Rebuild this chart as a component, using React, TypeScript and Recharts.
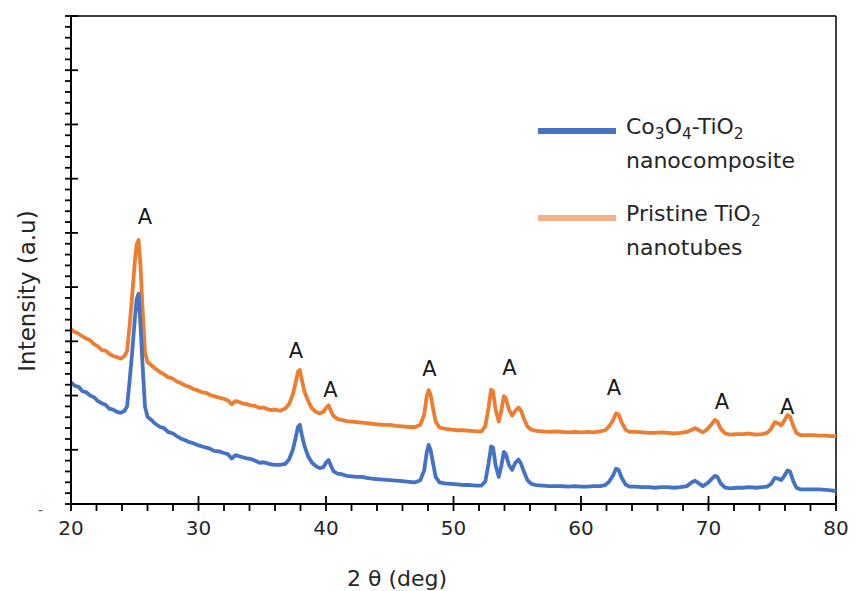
import React from 'react';
import { LineChart, Line, XAxis, YAxis, ReferenceLine, ReferenceDot, Legend } from 'recharts';

const FONT = '"DejaVu Sans", sans-serif';
const TEXT = '#262626';

// 2θ positions (deg)
const theta = [
  20.0, 20.3, 20.6, 20.9, 21.2, 21.5, 21.8, 22.1, 22.4, 22.7, 23.0, 23.3, 23.6, 23.9, 24.2, 24.4, 24.6, 24.8,
  25.0, 25.15, 25.3, 25.45, 25.6, 25.8, 26.0, 26.3, 26.6, 27.0, 27.3, 27.6, 28.0, 28.3, 28.6, 29.0, 29.3, 29.6,
  30.0, 30.3, 30.6, 30.9, 31.2, 31.6, 32.0, 32.3, 32.6, 32.9, 33.2, 33.5, 33.8, 34.1, 34.4, 34.8, 35.1, 35.4,
  35.7, 36.0, 36.4, 36.8, 37.1, 37.4, 37.6, 37.8, 37.95, 38.1, 38.3, 38.6, 38.9, 39.2, 39.5, 39.8, 40.0, 40.2,
  40.4, 40.6, 40.9, 41.2, 41.6, 42.0, 42.4, 42.8, 43.2, 43.6, 44.0, 44.5, 45.0, 45.5, 46.0, 46.5, 47.0, 47.4,
  47.7, 47.9, 48.05, 48.2, 48.4, 48.6, 48.9, 49.3, 49.8, 50.3, 50.8, 51.3, 51.8, 52.2, 52.5, 52.75, 52.95, 53.1,
  53.3, 53.55, 53.75, 53.95, 54.1, 54.35, 54.6, 54.85, 55.1, 55.3, 55.55, 55.8, 56.1, 56.5, 57.0, 57.5, 58.0, 58.5,
  59.0, 59.5, 60.0, 60.5, 61.0, 61.5, 61.9, 62.2, 62.5, 62.75, 62.95, 63.2, 63.5, 63.8, 64.3, 64.8, 65.3, 65.8,
  66.3, 66.8, 67.3, 67.8, 68.3, 68.7, 68.95, 69.25, 69.55, 69.9, 70.2, 70.5, 70.7, 70.95, 71.3, 71.7, 72.2, 72.7,
  73.2, 73.7, 74.2, 74.6, 74.9, 75.2, 75.45, 75.7, 75.95, 76.2, 76.4, 76.65, 76.9, 77.2, 77.7, 78.2, 78.7, 79.2,
  79.6, 80.0,
];

// Co3O4-TiO2 nanocomposite (a.u.)
const composite = [
  224, 218, 216, 208, 206, 200, 197, 190, 186, 183, 176, 174, 170, 168, 172, 180, 228, 280,
  340, 378, 388, 330, 262, 180, 161, 155, 148, 142, 140, 133, 130, 125, 121, 117, 114, 112,
  108, 106, 104, 102, 98, 97, 94, 92, 84, 90, 88, 86, 84, 83, 80, 76, 77, 75,
  73, 72, 72, 74, 82, 100, 120, 142, 146, 128, 108, 88, 76, 70, 66, 68, 76, 81,
  70, 60, 56, 55, 52, 51, 50, 50, 48, 47, 46, 45, 44, 43, 42, 41, 40, 44,
  62, 95, 109, 100, 75, 50, 40, 38, 37, 36, 35, 35, 34, 34, 42, 75, 106, 104,
  72, 50, 70, 96, 92, 72, 63, 76, 82, 74, 58, 44, 37, 35, 34, 33, 33, 33,
  32, 33, 32, 32, 33, 33, 35, 41, 52, 65, 63, 48, 36, 32, 32, 31, 31, 30,
  31, 31, 30, 31, 33, 40, 43, 38, 33, 38, 45, 52, 50, 38, 30, 29, 30, 30,
  31, 30, 31, 32, 37, 48, 47, 44, 52, 62, 60, 42, 30, 27, 27, 27, 27, 26,
  25, 24,
];

// Pristine TiO2 nanotubes (a.u.)
const pristine = [
  322, 317, 314, 309, 305, 302, 295, 291, 284, 283, 277, 273, 271, 268, 273, 282, 330, 385,
  445, 478, 487, 440, 365, 280, 262, 256, 250, 243, 239, 234, 231, 226, 223, 218, 216, 212,
  209, 206, 205, 201, 199, 196, 194, 191, 184, 190, 188, 185, 184, 182, 181, 177, 178, 175,
  173, 174, 172, 176, 184, 202, 222, 244, 247, 230, 208, 190, 176, 170, 167, 170, 177, 182,
  171, 162, 157, 155, 153, 152, 151, 150, 149, 148, 147, 146, 146, 144, 143, 142, 142, 146,
  165, 198, 210, 202, 176, 152, 141, 139, 137, 136, 136, 135, 134, 134, 144, 178, 211, 208,
  174, 152, 172, 199, 195, 174, 163, 172, 178, 172, 156, 143, 137, 135, 134, 133, 134, 133,
  132, 133, 132, 133, 132, 134, 136, 143, 154, 167, 165, 150, 137, 133, 133, 132, 131, 131,
  132, 131, 130, 131, 133, 137, 140, 136, 132, 138, 146, 155, 152, 139, 130, 128, 129, 129,
  130, 128, 129, 131, 138, 151, 149, 145, 154, 164, 161, 144, 131, 127, 127, 127, 126, 126,
  125, 125,
];

const xTicks = [20, 22, 24, 26, 28, 30, 32, 34, 36, 38, 40, 42, 44, 46, 48, 50, 52, 54, 56, 58, 60, 62, 64, 66, 68, 70, 72, 74, 76, 78, 80];
const yTicks = Array.from({ length: 46 }, (_, i) => i * 20);

// anatase peak markers
const peakLabels = [
  { x: 25.8, y: 530 },
  { x: 37.65, y: 283 },
  { x: 40.35, y: 212 },
  { x: 48.12, y: 250 },
  { x: 54.38, y: 252 },
  { x: 62.58, y: 215 },
  { x: 71.06, y: 189 },
  { x: 76.17, y: 179 },
];

const data = theta.map((t, i) => ({ theta: t, composite: composite[i], pristine: pristine[i] }));

const XTick = ({ x, y, payload }: any) => {
  const major = payload.value % 10 === 0;
  return (
    <g>
      <line x1={x} x2={x} y1={major ? y - 8 : y} y2={y + 7} stroke="#000" strokeWidth={1.8} />
      {major && (
        <text x={x} y={y + 31} textAnchor="middle" fontSize={20} fontFamily={FONT} fill={TEXT}>
          {payload.value}
        </text>
      )}
    </g>
  );
};

const YTick = ({ x, y, payload }: any) => {
  const major = payload.value % 100 === 0;
  return <line x1={x - 6} x2={major ? x + 7 : x} y1={y} y2={y} stroke="#000" strokeWidth={1.8} />;
};

const Sub = ({ children }: { children: React.ReactNode }) => (
  <span style={{ fontSize: '0.7em', position: 'relative', top: '0.3em' }}>{children}</span>
);

const legendItems = [
  { color: '#4472C4', lines: [<>Co<Sub>3</Sub>O<Sub>4</Sub>-TiO<Sub>2</Sub></>, 'nanocomposite'] },
  { color: '#F4B183', lines: [<>Pristine TiO<Sub>2</Sub></>, 'nanotubes'] },
];

const LegendBox = () => (
  <div style={{ fontFamily: FONT, fontSize: 22, lineHeight: '32px', color: TEXT }}>
    {legendItems.map((item, i) => (
      <div key={i} style={{ position: 'relative', height: 64, marginBottom: i === 0 ? 23 : 0 }}>
        <div style={{ position: 'absolute', left: 0, top: 17, width: 78, height: 6, background: item.color }} />
        <div style={{ position: 'absolute', left: 88, top: 0, whiteSpace: 'nowrap' }}>
          {item.lines.map((l, j) => (
            <div key={j}>{l}</div>
          ))}
        </div>
      </div>
    ))}
  </div>
);

export default function App() {
  return (
    <div style={{ position: 'absolute', left: 0, top: 0, width: 855, height: 591, background: '#fff' }}>
      <LineChart width={855} height={591} data={data} margin={{ top: 16, right: 19, bottom: 57, left: 11 }}>
        <XAxis
          type="number"
          dataKey="theta"
          domain={[20, 80]}
          ticks={xTicks}
          interval={0}
          tickSize={0}
          tickMargin={0}
          tickLine={false}
          tick={XTick}
          axisLine={{ stroke: '#000', strokeWidth: 2 }}
          height={30}
          allowDataOverflow
        />
        <YAxis
          type="number"
          domain={[0, 900]}
          ticks={yTicks}
          interval={0}
          tickSize={0}
          tickMargin={0}
          tickLine={false}
          tick={YTick}
          axisLine={{ stroke: '#000', strokeWidth: 2 }}
          width={60}
          allowDataOverflow
        />
        <ReferenceLine y={900} stroke="#000" strokeWidth={1.5} />
        <ReferenceLine x={80} stroke="#000" strokeWidth={1.5} />
        <Legend
          layout="vertical"
          align="center"
          verticalAlign="middle"
          content={LegendBox}
          wrapperStyle={{ left: 538, top: 111, width: 300 }}
        />
        <Line
          dataKey="pristine"
          name="Pristine TiO2 nanotubes"
          stroke="#ED7D31"
          strokeWidth={3.8}
          strokeLinejoin="round"
          dot={false}
          activeDot={false}
          isAnimationActive={false}
        />
        <Line
          dataKey="composite"
          name="Co3O4-TiO2 nanocomposite"
          stroke="#4472C4"
          strokeWidth={3.8}
          strokeLinejoin="round"
          dot={false}
          activeDot={false}
          isAnimationActive={false}
        />
        {peakLabels.map((p, i) => (
          <ReferenceDot
            key={i}
            x={p.x}
            y={p.y}
            r={0}
            stroke="none"
            fill="none"
            label={{ value: 'A', position: 'center', fontSize: 21, fontFamily: FONT, fill: '#1a1a1a' }}
          />
        ))}
      </LineChart>
      <div
        style={{
          position: 'absolute',
          left: 27,
          top: 291,
          transform: 'translate(-50%, -50%) rotate(-90deg)',
          fontFamily: FONT,
          fontSize: 23,
          color: TEXT,
          whiteSpace: 'nowrap',
        }}
      >
        Intensity (a.u)
      </div>
      <div
        style={{
          position: 'absolute',
          left: 397,
          top: 578,
          transform: 'translate(-50%, -50%)',
          fontFamily: FONT,
          fontSize: 22,
          color: TEXT,
          whiteSpace: 'nowrap',
        }}
      >
        2 θ (deg)
      </div>
      <div style={{ position: 'absolute', left: 38, top: 502, fontFamily: FONT, fontSize: 14, color: '#555' }}>-</div>
    </div>
  );
}
